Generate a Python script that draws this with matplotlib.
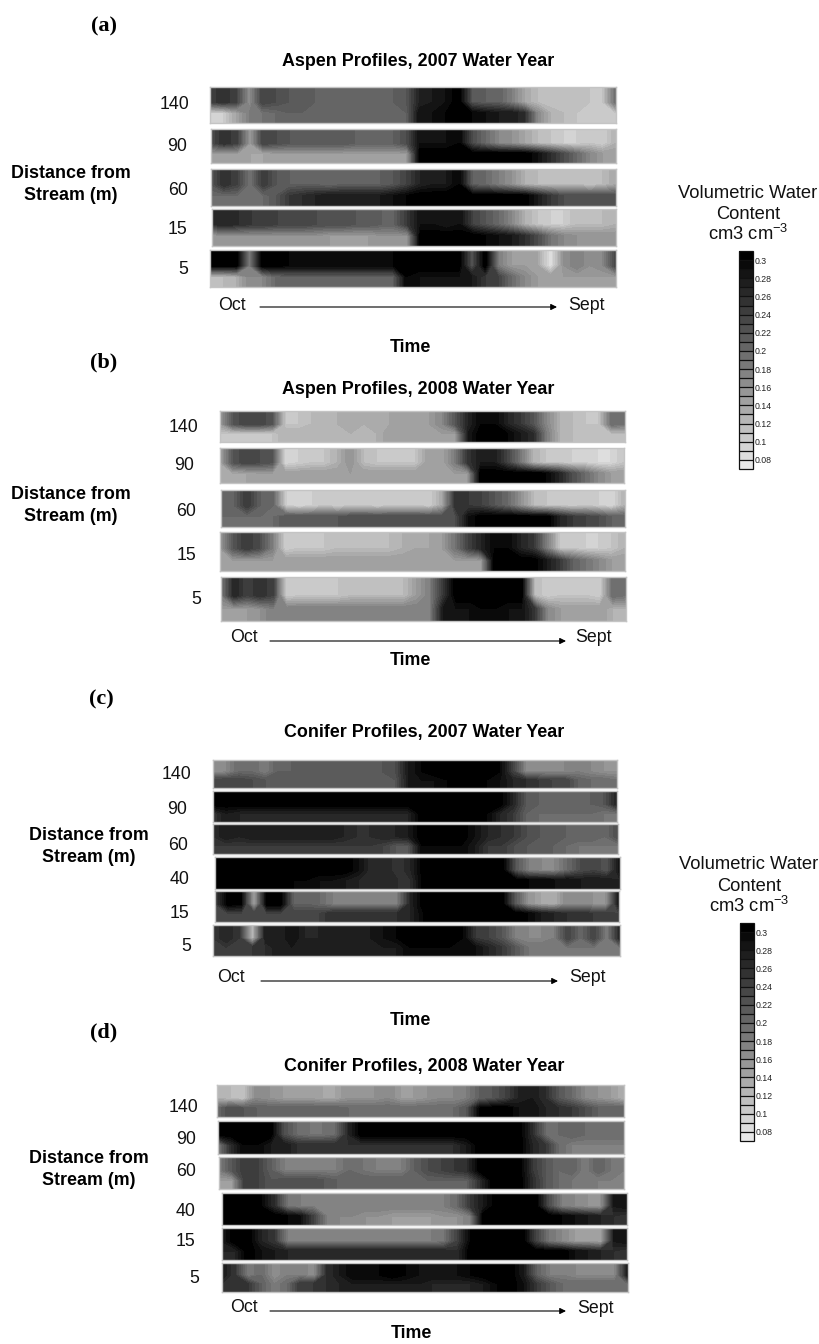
import numpy as np
import matplotlib
matplotlib.use("Agg")
import matplotlib.pyplot as plt
from matplotlib.colors import ListedColormap, BoundaryNorm
from matplotlib.colorbar import ColorbarBase

plt.rcParams['font.family'] = ['Liberation Sans', 'DejaVu Sans']
plt.rcParams['mathtext.default'] = 'regular'

W, H = 820, 1344

# Volumetric water content x 100, at upper (TOP) and lower (BOT) depths, 32 dates Oct -> Sept
A140_TOP = [24,26,24,16,24,23,22,22,21,21,21,21,21,21,21,22,27,28,29,31,22,21,21,18,14,12,11,12,12,11,11,20]
A140_BOT = [10,10,14,18,19,20,21,21,21,21,21,21,21,21,21,21,29,29,30,31,30,29,28,28,26,17,13,12,11,11,11,11]
A90_TOP = [23,26,24,15,24,23,22,22,22,22,22,21,21,21,21,23,29,29,29,30,23,20,17,16,14,12,11,10,10,11,10,13]
A90_BOT = [15,15,15,14,14,15,15,15,15,15,15,15,15,15,15,15,31,31,31,31,31,31,31,31,31,29,26,23,20,17,15,15]
A60_TOP = [22,26,24,19,25,22,21,21,21,20,21,21,21,21,22,24,27,28,28,30,21,20,18,16,13,12,12,12,12,11,12,14]
A60_BOT = [20,20,20,20,20,22,25,26,27,28,28,28,28,28,29,30,31,31,31,31,31,31,31,31,31,28,25,23,23,23,23,23]
A15_TOP = [26,27,26,25,25,24,24,24,23,23,23,22,22,21,21,25,29,29,28,29,24,22,20,17,13,11,10,10,12,12,12,13]
A15_BOT = [15,16,16,16,16,16,16,16,16,15,15,15,15,16,16,16,31,31,31,31,31,30,29,28,26,23,19,17,16,16,16,16]
A5_TOP = [31,31,31,18,31,31,30,30,30,30,30,30,30,30,30,31,31,31,31,31,22,31,18,15,15,14,8,16,18,16,17,24]
A5_BOT = [12,12,13,17,17,20,21,21,21,21,21,21,21,21,21,30,29,29,29,29,28,25,24,20,17,15,15,15,15,15,15,15]

B140_TOP = [15,22,24,24,22,11,11,12,13,13,14,13,14,14,15,15,15,17,22,27,30,30,27,25,22,17,13,12,11,11,20,19]
B140_BOT = [11,11,11,11,11,13,13,13,13,13,13,13,13,15,15,15,15,15,15,28,31,31,30,28,26,18,13,12,12,12,12,12]
B90_TOP = [14,22,24,23,22,9,10,11,11,13,16,12,11,11,11,11,15,14,18,25,28,28,24,19,13,11,11,10,10,9,9,11]
B90_BOT = [14,14,14,15,15,15,15,15,15,15,15,15,15,15,15,15,15,15,15,15,31,31,31,31,31,30,27,23,20,17,15,15]
B60_TOP = [21,21,25,21,20,10,9,10,11,10,11,11,10,11,11,11,10,14,26,25,24,22,20,16,12,11,11,10,11,10,9,13]
B60_BOT = [20,20,20,20,20,22,22,22,22,22,23,23,23,23,23,23,23,23,23,29,31,31,31,31,31,31,27,25,24,23,21,21]
B15_TOP = [15,22,25,23,18,10,11,11,11,12,12,12,12,12,13,14,14,15,19,24,27,30,30,27,25,18,11,11,10,10,11,13]
B15_BOT = [15,15,15,15,15,15,15,15,15,15,15,15,15,15,15,15,15,15,15,15,15,31,31,31,31,28,25,21,19,17,15,15]
B5_TOP = [18,27,24,26,24,10,11,11,11,11,12,12,12,12,12,15,18,25,31,31,31,31,31,31,12,10,11,11,11,10,20,19]
B5_BOT = [15,15,15,16,18,18,18,18,18,18,18,18,18,18,18,18,18,28,29,29,30,30,29,29,25,17,15,15,15,15,13,13]

C140_TOP = [16,17,20,20,18,21,21,22,22,22,22,22,22,22,23,28,30,31,31,31,31,31,30,24,17,17,17,17,18,17,16,16]
C140_BOT = [24,24,24,23,22,22,22,22,22,22,22,22,22,22,22,28,29,29,30,31,31,30,29,27,26,25,24,24,21,20,20,19]
C90_TOP = [31,31,31,31,31,31,31,31,31,31,31,31,31,31,31,31,31,31,31,31,31,31,31,27,22,21,21,21,21,21,22,27]
C90_BOT = [25,28,27,27,27,27,27,27,27,27,27,27,27,27,27,27,31,31,31,31,31,30,27,25,21,20,20,20,20,20,19,19]
C60_TOP = [26,28,27,28,28,28,28,28,28,28,27,26,26,27,27,28,31,31,31,31,29,27,26,25,23,22,22,21,21,21,20,23]
C60_BOT = [25,25,25,25,25,25,25,25,25,25,25,25,25,24,22,22,30,30,30,30,28,25,25,23,22,22,21,20,19,19,19,19]
C40_TOP = [31,31,31,31,31,31,31,31,31,31,31,29,26,27,25,27,31,31,31,31,31,31,31,22,18,17,17,20,23,24,22,29]
C40_BOT = [31,31,31,31,31,31,30,30,29,29,28,27,27,27,26,26,31,31,31,31,31,31,31,31,30,30,29,29,28,28,28,27]
C15_TOP = [24,31,30,14,31,31,21,21,20,18,18,18,18,18,18,27,31,31,31,31,31,31,31,22,16,14,13,17,17,16,16,28]
C15_BOT = [24,24,24,24,24,24,24,24,24,26,26,26,26,26,26,27,30,31,31,31,31,31,31,31,30,28,27,26,26,25,25,24]
C5_TOP = [25,27,25,12,28,27,29,27,27,28,28,28,28,29,30,31,31,31,31,30,25,24,22,18,17,17,18,24,20,24,18,27]
C5_BOT = [25,25,25,25,26,28,28,28,28,28,28,28,28,28,28,30,30,30,30,30,29,27,25,22,19,19,19,19,19,19,19,19]

D140_TOP = [13,12,11,17,16,15,15,15,14,14,16,16,16,17,15,15,16,17,17,18,21,22,24,27,28,26,22,20,17,16,15,13]
D140_BOT = [20,23,22,21,21,21,21,21,21,21,20,20,20,20,20,20,20,20,20,22,30,31,31,29,29,27,26,25,23,21,21,21]
D90_TOP = [30,31,31,31,31,23,20,19,19,20,27,31,31,31,31,31,31,31,31,31,31,31,31,31,26,20,20,21,20,20,20,20]
D90_BOT = [18,26,30,30,28,28,26,26,26,26,26,26,26,26,26,26,26,26,26,28,31,31,31,31,27,25,20,18,18,18,18,18]
D60_TOP = [18,22,25,24,21,18,18,18,18,18,20,19,18,18,18,21,23,24,25,26,31,31,31,31,25,22,20,21,18,21,19,18]
D60_BOT = [15,15,25,24,22,23,23,23,22,21,21,21,21,21,21,21,21,21,21,21,26,31,31,31,26,22,20,19,19,18,18,18]
D40_TOP = [31,31,31,30,26,19,18,18,18,18,18,18,18,18,18,18,18,18,20,25,28,31,31,31,31,23,18,17,16,16,28,29]
D40_BOT = [30,31,31,31,31,30,29,24,18,17,17,16,16,15,15,15,15,16,16,18,31,31,31,31,31,31,30,29,28,27,26,25]
D15_TOP = [28,31,31,27,25,18,18,18,18,18,18,18,18,18,18,18,18,19,24,30,31,31,31,31,24,19,17,15,15,14,28,29]
D15_BOT = [27,27,31,29,28,27,27,27,27,27,27,27,27,27,27,27,27,27,26,31,31,31,31,31,31,31,31,29,28,27,26,25]
D5_TOP = [28,25,18,20,16,18,18,16,26,28,30,30,30,31,30,29,29,29,29,30,31,31,31,28,21,18,18,17,17,17,17,28]
D5_BOT = [26,26,25,21,18,20,25,25,26,27,28,28,28,28,28,28,27,27,27,27,28,30,31,29,25,22,20,20,20,20,20,20]

LEVELS = np.arange(7, 32) / 100
TICKS = [0.08, 0.10, 0.12, 0.14, 0.16, 0.18, 0.20, 0.22, 0.24, 0.26, 0.28, 0.30]
TICK_LABELS = ['0.08', '0.1', '0.12', '0.14', '0.16', '0.18', '0.2', '0.22', '0.24', '0.26', '0.28', '0.3']

grays = np.linspace(232, 0, len(LEVELS) - 1) / 255
cmap = ListedColormap([(g, g, g) for g in grays])
cmap.set_under((0.91, 0.91, 0.91))
cmap.set_over((0, 0, 0))
norm = BoundaryNorm(LEVELS, cmap.N)

fig = plt.figure(figsize=(W / 100, H / 100), dpi=100, facecolor='white')


def box(x0, y0, x1, y1):
    return [x0 / W, 1 - y1 / H, (x1 - x0) / W, (y1 - y0) / H]


overlay = fig.add_axes([0, 0, 1, 1], zorder=5)
overlay.set_xlim(0, W)
overlay.set_ylim(H, 0)
overlay.axis('off')


def text(x, y, s, **kw):
    kw.setdefault('ha', 'center')
    kw.setdefault('va', 'center')
    overlay.text(x, y + 1.5, s, **kw)


DEPTH_POS = [0, 0.42, 0.72, 1]


def strip(rect, top, bot, label, label_xy):
    assert len(top) == 32 and len(bot) == 32, label
    ax = fig.add_axes(box(*rect))
    t = np.linspace(0, 1, 32)
    top = np.array(top) / 100
    bot = np.array(bot) / 100
    z = np.vstack([top, top, bot, bot])
    ax.contourf(t, DEPTH_POS, z, levels=LEVELS, cmap=cmap, norm=norm, extend='both')
    ax.set_xlim(0, 1)
    ax.set_ylim(1, 0)
    ax.set_xticks([])
    ax.set_yticks([])
    for s in ax.spines.values():
        s.set_color('#c4c4c4')
        s.set_linewidth(1.0)
    text(label_xy[0], label_xy[1], label, fontsize=12.8, color='#111111')


PANELS = [
    dict(letter='(a)', letter_xy=(104, 25), title='Aspen Profiles, 2007 Water Year', title_xy=(418, 60),
         dist=(71, 172), arrow=(260, 557, 307), oct_xy=(232, 304), sept_xy=(586, 304), time_xy=(410, 346),
         strips=[((210, 87, 616, 123), A140_TOP, A140_BOT, '140', (175, 103)),
                 ((211, 129, 616, 163), A90_TOP, A90_BOT, '90', (177, 145)),
                 ((211, 169, 616, 206), A60_TOP, A60_BOT, '60', (178, 189)),
                 ((212, 209, 616, 246), A15_TOP, A15_BOT, '15', (178, 228)),
                 ((210, 250, 616, 287), A5_TOP, A5_BOT, '5', (183, 268))]),
    dict(letter='(b)', letter_xy=(104, 361), title='Aspen Profiles, 2008 Water Year', title_xy=(418, 388),
         dist=(71, 493), arrow=(270, 566, 641), oct_xy=(244, 636), sept_xy=(593, 636), time_xy=(410, 659),
         strips=[((220, 411, 625, 442), B140_TOP, B140_BOT, '140', (184, 426)),
                 ((220, 448, 624, 483), B90_TOP, B90_BOT, '90', (184, 464)),
                 ((221, 490, 625, 527), B60_TOP, B60_BOT, '60', (186, 510)),
                 ((220, 532, 625, 571), B15_TOP, B15_BOT, '15', (187, 554)),
                 ((221, 577, 626, 621), B5_TOP, B5_BOT, '5', (196, 598))]),
    dict(letter='(c)', letter_xy=(101, 698), title='Conifer Profiles, 2007 Water Year', title_xy=(424, 731),
         dist=(89, 834), arrow=(261, 558, 981), oct_xy=(231, 976), sept_xy=(587, 976), time_xy=(410, 1019),
         strips=[((213, 760, 617, 788), C140_TOP, C140_BOT, '140', (177, 773)),
                 ((213, 791, 617, 822), C90_TOP, C90_BOT, '90', (177, 808)),
                 ((213, 824, 618, 854), C60_TOP, C60_BOT, '60', (178, 844)),
                 ((215, 857, 620, 889), C40_TOP, C40_BOT, '40', (180, 878)),
                 ((215, 891, 619, 922), C15_TOP, C15_BOT, '15', (180, 912)),
                 ((213, 925, 620, 956), C5_TOP, C5_BOT, '5', (186, 945))]),
    dict(letter='(d)', letter_xy=(104, 1031), title='Conifer Profiles, 2008 Water Year', title_xy=(424, 1065),
         dist=(89, 1157), arrow=(270, 566, 1311), oct_xy=(244, 1306), sept_xy=(595, 1307), time_xy=(411, 1332),
         strips=[((217, 1085, 624, 1117), D140_TOP, D140_BOT, '140', (184, 1106)),
                 ((218, 1121, 624, 1154), D90_TOP, D90_BOT, '90', (186, 1138)),
                 ((219, 1157, 624, 1189), D60_TOP, D60_BOT, '60', (186, 1170)),
                 ((222, 1193, 627, 1225), D40_TOP, D40_BOT, '40', (186, 1210)),
                 ((222, 1228, 627, 1260), D15_TOP, D15_BOT, '15', (186, 1240)),
                 ((222, 1263, 628, 1292), D5_TOP, D5_BOT, '5', (194, 1277))]),
]

for p in PANELS:
    text(*p['letter_xy'], p['letter'], family='Liberation Serif', fontweight='bold', fontsize=16)
    text(*p['title_xy'], p['title'], fontweight='bold', fontsize=12.9)
    text(p['dist'][0], p['dist'][1], 'Distance from', fontweight='bold', fontsize=12.9)
    text(p['dist'][0], p['dist'][1] + 22, 'Stream (m)', fontweight='bold', fontsize=12.9)
    x0, x1, y = p['arrow']
    overlay.annotate('', xy=(x1, y), xytext=(x0, y),
                     arrowprops=dict(arrowstyle='-|>', color='black', lw=0.8, mutation_scale=9,
                                     shrinkA=0, shrinkB=0))
    text(*p['oct_xy'], 'Oct', fontsize=12.8, color='#111111')
    text(*p['sept_xy'], 'Sept', fontsize=12.8, color='#111111')
    text(*p['time_xy'], 'Time', fontweight='bold', fontsize=12.8)
    for rect, top, bot, lab, xy in p['strips']:
        strip(rect, top, bot, lab, xy)

COLORBARS = [dict(rect=(739, 251, 753, 469), cx=748, lines=(192, 213, 232)),
             dict(rect=(740, 923, 754, 1141), cx=749, lines=(863, 885, 904))]

for cb in COLORBARS:
    cax = fig.add_axes(box(*cb['rect']))
    c = ColorbarBase(cax, cmap=cmap, norm=norm, spacing='uniform', ticks=TICKS, drawedges=True)
    c.ax.minorticks_off()
    c.ax.set_yticks(TICKS, labels=TICK_LABELS)
    c.ax.tick_params(length=0, pad=1.5, labelsize=6.3, colors='#222222')
    c.dividers.set_color('#111111')
    c.dividers.set_linewidth(0.9)
    c.outline.set_edgecolor('#111111')
    c.outline.set_linewidth(0.9)
    l1, l2, l3 = cb['lines']
    text(cb['cx'], l1, 'Volumetric Water', fontsize=13.2, color='#111111')
    text(cb['cx'], l2, 'Content', fontsize=13.2, color='#111111')
    text(cb['cx'], l3, 'cm3 cm$^{-3}$', fontsize=13.2, color='#111111')

fig.savefig('out.png', dpi=100, facecolor='white')
